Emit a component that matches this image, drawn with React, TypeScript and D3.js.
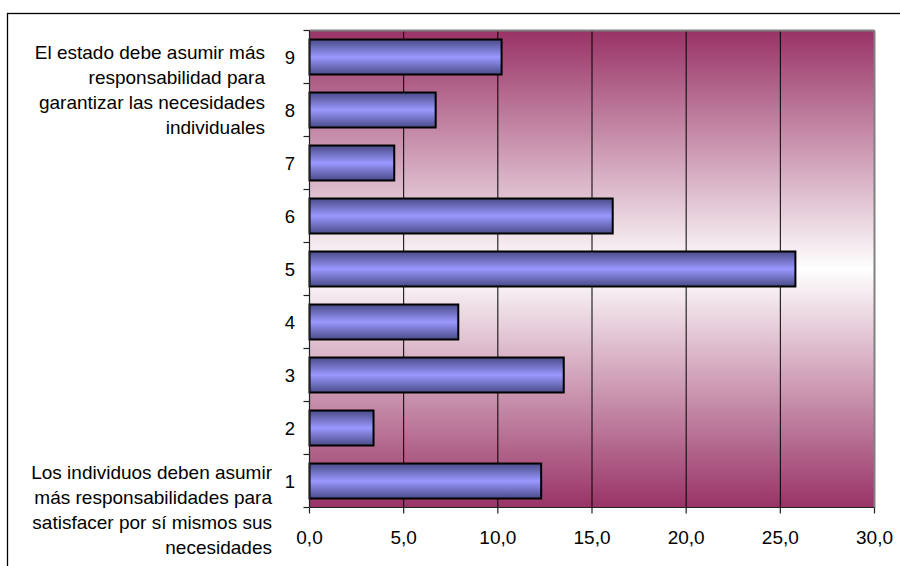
import React from "react";
import * as d3 from "d3";

const categories = ["1", "2", "3", "4", "5", "6", "7", "8", "9"];
const values = [12.3, 3.4, 13.5, 7.9, 25.8, 16.1, 4.5, 6.7, 10.2];
const xTicks = [0, 5, 10, 15, 20, 25, 30];
const topLabel = ["El estado debe asumir más", "responsabilidad para", "garantizar las necesidades", "individuales"];
const bottomLabel = ["Los individuos deben asumir", "más responsabilidades para", "satisfacer por sí mismos sus", "necesidades"];

const W = 900;
const H = 566;
const plot = { left: 309.5, right: 874.5, top: 30.5, bottom: 507.5 };
const font = "'Liberation Sans', Arial, sans-serif";

export default function App() {
  const x = d3.scaleLinear().domain([0, 30]).range([plot.left, plot.right]);
  const y = d3
    .scaleBand<string>()
    .domain([...categories].reverse())
    .range([plot.top, plot.bottom])
    .paddingInner(0.34)
    .paddingOuter(0.17);
  const step = (plot.bottom - plot.top) / categories.length;
  const fmt = (v: number) => v.toFixed(1).replace(".", ",");

  return (
    <svg
      width={W}
      height={H}
      style={{ position: "absolute", left: 0, top: 0, background: "#fff" }}
      fontFamily={font}
    >
      <defs>
        <linearGradient id="bg" x1="0" y1="0" x2="0" y2="1">
          <stop offset="0" stopColor="#993366" />
          <stop offset="0.5" stopColor="#ffffff" />
          <stop offset="1" stopColor="#993366" />
        </linearGradient>
        <linearGradient id="bar" x1="0" y1="0" x2="0" y2="1">
          <stop offset="0" stopColor="#4a4a88" />
          <stop offset="0.5" stopColor="#9999ff" />
          <stop offset="1" stopColor="#4a4a88" />
        </linearGradient>
      </defs>
      <rect x={7.5} y={13.5} width={1000} height={1000} fill="none" stroke="#000" strokeWidth={1.3} />
      <rect
        x={plot.left}
        y={plot.top}
        width={plot.right - plot.left}
        height={plot.bottom - plot.top}
        fill="url(#bg)"
      />
      {xTicks.slice(1, -1).map((t) => (
        <line key={t} x1={x(t)} x2={x(t)} y1={plot.top} y2={plot.bottom} stroke="#000" strokeWidth={1} />
      ))}
      <line x1={plot.left} x2={plot.right} y1={plot.top} y2={plot.top} stroke="#808080" strokeWidth={2} />
      <line x1={plot.right} x2={plot.right} y1={plot.top} y2={plot.bottom} stroke="#808080" strokeWidth={2} />
      {categories.map((c, i) => (
        <rect
          key={c}
          x={x(0)}
          y={y(c)!}
          width={x(values[i]) - x(0)}
          height={y.bandwidth()}
          fill="url(#bar)"
          stroke="#000"
          strokeWidth={2}
        />
      ))}
      <line x1={plot.left} x2={plot.left} y1={plot.top} y2={plot.bottom} stroke="#222" strokeWidth={1.2} />
      <line x1={plot.left} x2={plot.right} y1={plot.bottom} y2={plot.bottom} stroke="#222" strokeWidth={1.2} />
      {d3.range(categories.length + 1).map((i) => (
        <line
          key={i}
          x1={plot.left - 6}
          x2={plot.left}
          y1={plot.top + i * step}
          y2={plot.top + i * step}
          stroke="#222"
          strokeWidth={1.2}
        />
      ))}
      {xTicks.map((t) => (
        <line key={t} x1={x(t)} x2={x(t)} y1={plot.bottom} y2={plot.bottom + 6} stroke="#222" strokeWidth={1.2} />
      ))}
      {categories.map((c) => (
        <text
          key={c}
          x={290}
          y={y(c)! + y.bandwidth() / 2}
          textAnchor="middle"
          dominantBaseline="central"
          fontSize={18.5}
          fill="#000"
        >
          {c}
        </text>
      ))}
      {xTicks.map((t) => (
        <text key={t} x={x(t)} y={537} textAnchor="middle" dominantBaseline="central" fontSize={19} fill="#000">
          {fmt(t)}
        </text>
      ))}
      {topLabel.map((s, i) => (
        <text key={s} x={265} y={52 + i * 25.3} textAnchor="end" dominantBaseline="central" fontSize={19} fill="#000">
          {s}
        </text>
      ))}
      {bottomLabel.map((s, i) => (
        <text key={s} x={272} y={472 + i * 25} textAnchor="end" dominantBaseline="central" fontSize={19} fill="#000">
          {s}
        </text>
      ))}
    </svg>
  );
}
